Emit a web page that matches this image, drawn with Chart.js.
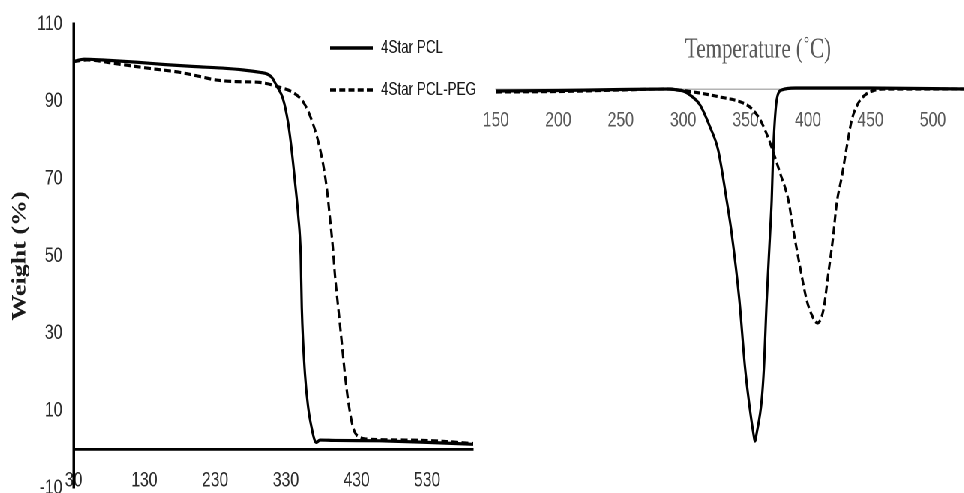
<!DOCTYPE html>
<html>
<head>
<meta charset="utf-8">
<script src="https://cdn.jsdelivr.net/npm/chart.js@4.4.1/dist/chart.umd.min.js"></script>
<style>
  html, body { margin:0; padding:0; background:#fff; overflow:hidden; width:964px; height:493px; }
  #stage { position:absolute; left:0; top:0; width:1382px; height:493px; transform:scaleX(0.75); transform-origin:0 0; }
  #leftBox { position:absolute; left:0; top:0; width:700px; height:493px; z-index:2; }
  #rightBox { position:absolute; left:640px; top:0; width:742px; height:493px; z-index:1; }
</style>
</head>
<body>
<div id="stage">
  <div id="leftBox"><canvas id="tga"></canvas></div>
  <div id="rightBox"><canvas id="dtg"></canvas></div>
</div>
<script>
// ---------- DATA ----------
const seriesNames = ['4Star PCL', '4Star PCL-PEG'];

// Left panel: TGA weight (%) vs temperature
const tgaXTicks = [30, 130, 230, 330, 430, 530];
const tgaYTicks = [-10, 10, 30, 50, 70, 90, 110];

const pclTgaT = [30, 45, 80, 120, 160, 200, 240, 270, 293, 303, 310, 317, 326, 333, 338, 343, 347.5, 351, 352.5, 357, 361.6, 366.4, 371, 373.5, 378, 400, 463, 530, 595];
const pclTgaW = [100.3, 100.9, 100.6, 100.1, 99.5, 99.0, 98.6, 98.1, 97.5, 97.1, 96.2, 94.0, 90.6, 84.6, 77.7, 69.0, 60.4, 50.1, 36.7, 19.5, 10.8, 5.6, 2.2, 1.8, 2.4, 2.3, 2.2, 1.8, 1.3];

const pegTgaT = [30, 49, 91, 138, 180, 209, 232, 260, 293, 322, 340, 355, 366, 376, 383, 388, 392, 396.5, 399.3, 404, 408.8, 413.5, 418.2, 425.2, 434.7, 449, 500, 540, 595];
const pegTgaW = [100.3, 100.7, 99.7, 98.5, 97.5, 96.4, 95.5, 95.1, 94.9, 93.6, 92.3, 89.7, 85.4, 79.4, 73.4, 67.3, 60.4, 52.0, 45.3, 36.7, 28.1, 19.5, 12.5, 5.6, 3.1, 2.6, 2.4, 2.2, 1.5];

// Right panel: derivative curves (no value axis shown) vs temperature
const dtgXTicks = [150, 200, 250, 300, 350, 400, 450, 500];

const pclDtgT = [150, 200, 250, 290, 295, 300, 305.5, 313.5, 321.5, 328, 334.8, 338.8, 345, 349.5, 352.5, 356.2, 357.5, 358.9, 362.9, 364.7, 366.9, 369.6, 370.9, 371.7, 372.8, 374.9, 378.9, 390, 450, 525];
const pclDtgV = [-0.02, -0.015, -0.005, 0, -0.01, -0.02, -0.06, -0.16, -0.38, -0.61, -1.11, -1.44, -2.11, -2.78, -3.11, -3.44, -3.52, -3.44, -3.11, -2.78, -2.11, -1.44, -1.11, -0.78, -0.44, -0.11, -0.01, 0.01, 0.01, 0.0];

const pegDtgT = [150, 200, 250, 285, 308, 329.5, 348, 356, 363, 369.6, 377.6, 384.2, 388.2, 393.6, 398.9, 403, 407.5, 412.3, 416.3, 419.8, 423, 427, 431, 435, 440.3, 445.7, 452.3, 460, 525];
const pegDtgV = [-0.03, -0.025, -0.01, 0, -0.03, -0.08, -0.14, -0.21, -0.34, -0.54, -0.84, -1.11, -1.41, -1.78, -2.11, -2.26, -2.34, -2.21, -1.84, -1.51, -1.14, -0.88, -0.58, -0.31, -0.14, -0.06, -0.017, 0, 0];

// ---------- HELPERS ----------
const pts = (xs, ys) => xs.map((x, i) => ({x: x, y: ys[i]}));
const SANS = '"Liberation Sans", Arial, sans-serif';
const SERIF = '"Liberation Serif", "Times New Roman", serif';

const legendPlugin = {
  id: 'customLegend',
  afterDraw(chart, args, opts) {
    const ctx = chart.ctx;
    chart.data.datasets.forEach((ds, i) => {
      const y = opts.rows[i];
      ctx.save();
      ctx.strokeStyle = ds.borderColor;
      ctx.lineWidth = 3.5;
      ctx.setLineDash(i === 0 ? [] : [8, 4.25]);
      ctx.beginPath();
      ctx.moveTo(opts.x0, y);
      ctx.lineTo(opts.x1, y);
      ctx.stroke();
      ctx.setLineDash([]);
      ctx.fillStyle = '#1a1a1a';
      ctx.font = '18px ' + SANS;
      ctx.textBaseline = 'middle';
      ctx.textAlign = 'left';
      ctx.fillText(ds.label, opts.tx, y);
      ctx.restore();
    });
  }
};

// ---------- LEFT CHART ----------
new Chart(document.getElementById('tga'), {
  type: 'line',
  data: {
    datasets: [
      { label: seriesNames[0], data: pts(pclTgaT, pclTgaW), borderColor: '#000', borderWidth: 3.2,
        pointRadius: 0, cubicInterpolationMode: 'monotone', fill: false },
      { label: seriesNames[1], data: pts(pegTgaT, pegTgaW), borderColor: '#000', borderWidth: 3.2,
        borderDash: [9, 4.5], pointRadius: 0, cubicInterpolationMode: 'monotone', fill: false }
    ]
  },
  options: {
    responsive: true, maintainAspectRatio: false, animation: false, devicePixelRatio: 2,
    layout: { padding: { left: 0, right: 69, top: 24, bottom: 5 } },
    plugins: {
      legend: { display: false }, tooltip: { enabled: false },
      customLegend: { rows: [48, 90], x0: 440, x1: 497, tx: 508 }
    },
    scales: {
      x: {
        type: 'linear', min: 30, max: 595, position: { y: 0 },
        afterBuildTicks: s => { s.ticks = tgaXTicks.map(v => ({ value: v })); },
        afterFit: s => { s.height = 0; s.paddingLeft = 0; s.paddingRight = 0; s.paddingTop = 0; s.paddingBottom = 0; },
        grid: { display: false, drawTicks: false },
        border: { display: true, color: '#000', width: 2.7 },
        ticks: { padding: 19, color: '#2b2b2b', autoSkip: false, maxRotation: 0,
                 font: { family: SANS, size: 21 } }
      },
      y: {
        type: 'linear', min: -10, max: 110, position: 'left',
        afterBuildTicks: s => { s.ticks = tgaYTicks.map(v => ({ value: v })); },
        afterFit: s => { s.width = 98; s.paddingTop = 0; s.paddingBottom = 0; },
        grid: { display: false, drawTicks: false },
        border: { display: true, color: '#000', width: 3.5 },
        ticks: { padding: 15, color: '#2b2b2b', font: { family: SANS, size: 21 } },
        title: { display: true, text: 'Weight (%)', color: '#1a1a1a',
                 font: { family: SERIF, size: 26, weight: 'bold' }, padding: { top: 11, bottom: 0 } }
      }
    }
  },
  plugins: [legendPlugin]
});

// ---------- RIGHT CHART ----------
new Chart(document.getElementById('dtg'), {
  type: 'line',
  data: {
    datasets: [
      { label: seriesNames[0], data: pts(pclDtgT, pclDtgV), borderColor: '#000', borderWidth: 3.2,
        pointRadius: 0, cubicInterpolationMode: 'monotone', fill: false },
      { label: seriesNames[1], data: pts(pegDtgT, pegDtgV), borderColor: '#000', borderWidth: 3.2,
        borderDash: [8, 4], pointRadius: 0, cubicInterpolationMode: 'monotone', fill: false }
    ]
  },
  options: {
    responsive: true, maintainAspectRatio: false, animation: false, devicePixelRatio: 2,
    layout: { padding: { left: 21.3, right: 21.7, top: 0, bottom: 23 } },
    plugins: {
      legend: { display: false }, tooltip: { enabled: false },
      title: { display: true, text: 'Temperature (˚C)', color: '#595959',
               font: { family: SERIF, size: 28, weight: 'normal' }, padding: { top: 33.2, bottom: 3.2 } }
    },
    scales: {
      x: {
        type: 'linear', min: 150, max: 569.8, position: { y: 0 },
        afterBuildTicks: s => { s.ticks = dtgXTicks.map(v => ({ value: v })); },
        afterFit: s => { s.height = 0; s.paddingLeft = 0; s.paddingRight = 0; s.paddingTop = 0; s.paddingBottom = 0; },
        grid: { display: false, drawTicks: false },
        border: { display: true, color: '#b3b3b3', width: 1.5 },
        ticks: { padding: 19, color: '#595959', autoSkip: false, maxRotation: 0,
                 font: { family: SANS, size: 21 } }
      },
      y: { type: 'linear', display: false, min: -3.81, max: 0.19 }
    }
  }
});
</script>
</body>
</html>
